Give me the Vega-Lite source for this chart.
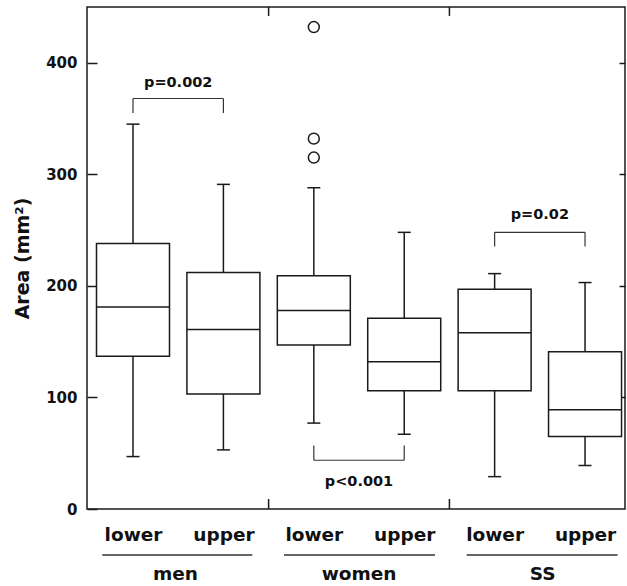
{
  "$schema": "https://vega.github.io/schema/vega-lite/v6.json",
  "width": 538,
  "height": 502,
  "autosize": "none",
  "padding": {"left": 87, "top": 7, "right": 2, "bottom": 77},
  "background": "white",
  "config": {
    "view": {"stroke": "#1a1a1a", "strokeWidth": 1.5},
    "font": "DejaVu Sans",
    "axis": {"grid": false, "domain": false}
  },
  "datasets": {
    "boxes": [
      {"sex": "men", "jaw": "lower", "pos": 0.5, "lo": 47, "q1": 137, "med": 181, "q3": 238, "hi": 345},
      {"sex": "men", "jaw": "upper", "pos": 1.5, "lo": 53, "q1": 103, "med": 161, "q3": 212, "hi": 291},
      {"sex": "women", "jaw": "lower", "pos": 2.5, "lo": 77, "q1": 147, "med": 178, "q3": 209, "hi": 288},
      {"sex": "women", "jaw": "upper", "pos": 3.5, "lo": 67, "q1": 106, "med": 132, "q3": 171, "hi": 248},
      {"sex": "SS", "jaw": "lower", "pos": 4.5, "lo": 29, "q1": 106, "med": 158, "q3": 197, "hi": 211},
      {"sex": "SS", "jaw": "upper", "pos": 5.5, "lo": 39, "q1": 65, "med": 89, "q3": 141, "hi": 203}
    ],
    "outliers": [
      {"pos": 2.5, "value": 432},
      {"pos": 2.5, "value": 332},
      {"pos": 2.5, "value": 315}
    ],
    "brackets": [
      {"x1": 0.5, "x2": 1.5, "xm": 1, "ybar": 368, "yleg": 355, "label": "p=0.002", "ly": 378},
      {"x1": 2.5, "x2": 3.5, "xm": 3, "ybar": 43.7, "yleg": 57, "label": "p<0.001", "ly": 20.6},
      {"x1": 4.5, "x2": 5.5, "xm": 5, "ybar": 248, "yleg": 235.3, "label": "p=0.02", "ly": 260}
    ],
    "groups": [
      {"group": "men", "gx": 0.97, "u1": 0.16, "u2": 1.82, "uy": -41.2, "ty": -63.6},
      {"group": "women", "gx": 3.0, "u1": 2.17, "u2": 3.84, "uy": -41.2, "ty": -63.6},
      {"group": "SS", "gx": 5.03, "u1": 4.19, "u2": 5.86, "uy": -41.2, "ty": -63.6}
    ],
    "separators": [
      {"sx": 2, "s1": 0, "s2": 9},
      {"sx": 2, "s1": 442, "s2": 450},
      {"sx": 4, "s1": 0, "s2": 9},
      {"sx": 4, "s1": 442, "s2": 450}
    ]
  },
  "resolve": {"axis": {"y": "independent", "x": "independent"}},
  "layer": [
    {
      "data": {"name": "boxes"},
      "mark": {"type": "rule", "stroke": "#1a1a1a", "strokeWidth": 1.5},
      "encoding": {
        "x": {"field": "pos", "type": "quantitative", "scale": {"domain": [-0.0088, 5.942], "nice": false, "zero": false, "padding": 0},
          "axis": {"values": [0.5, 1.5, 2.5, 3.5, 4.5, 5.5], "ticks": false, "labelExpr": "floor(datum.value) % 2 == 0 ? 'lower' : 'upper'", "labelFont": "DejaVu Sans", "labelFontWeight": "bold", "labelFontSize": 18.5, "labelColor": "#111", "labelBaseline": "alphabetic", "labelPadding": 31, "title": null, "labelFlush": false, "labelOverlap": false}},
        "y": {"field": "lo", "type": "quantitative", "scale": {"domain": [0, 450], "nice": false, "padding": 0},
          "axis": {"orient": "left", "values": [0, 100, 200, 300, 400], "tickSize": -10, "tickColor": "#1a1a1a", "tickWidth": 1.5, "labelPadding": 20, "labelFont": "DejaVu Sans", "labelFontWeight": "bold", "labelFontSize": 15, "labelColor": "#111", "title": "Area (mm²)", "titleFont": "DejaVu Sans", "titleFontWeight": "bold", "titleFontSize": 19, "titleColor": "#111", "titlePadding": 13}},
        "y2": {"field": "q1"}
      }
    },
    {
      "data": {"name": "boxes"},
      "mark": {"type": "rule", "stroke": "#1a1a1a", "strokeWidth": 1.5},
      "encoding": {
        "x": {"field": "pos", "type": "quantitative", "axis": null},
        "y": {"field": "q3", "type": "quantitative",
          "axis": {"orient": "right", "values": [100, 200, 300, 400], "tickSize": -6, "tickColor": "#1a1a1a", "tickWidth": 1.5, "labels": false, "title": null}},
        "y2": {"field": "hi"}
      }
    },
    {
      "data": {"name": "boxes"},
      "mark": {"type": "bar", "width": 73, "fill": "white", "stroke": "#1a1a1a", "strokeWidth": 1.5},
      "encoding": {
        "x": {"field": "pos", "type": "quantitative", "axis": null},
        "y": {"field": "q1", "type": "quantitative", "axis": null},
        "y2": {"field": "q3"}
      }
    },
    {
      "data": {"name": "boxes"},
      "mark": {"type": "tick", "orient": "horizontal", "size": 73, "thickness": 1.5, "color": "#1a1a1a", "opacity": 1},
      "encoding": {
        "x": {"field": "pos", "type": "quantitative", "axis": null},
        "y": {"field": "med", "type": "quantitative", "axis": null}
      }
    },
    {
      "data": {"name": "boxes"},
      "mark": {"type": "tick", "orient": "horizontal", "size": 13, "thickness": 1.5, "color": "#1a1a1a", "opacity": 1},
      "encoding": {
        "x": {"field": "pos", "type": "quantitative", "axis": null},
        "y": {"field": "lo", "type": "quantitative", "axis": null}
      }
    },
    {
      "data": {"name": "boxes"},
      "mark": {"type": "tick", "orient": "horizontal", "size": 13, "thickness": 1.5, "color": "#1a1a1a", "opacity": 1},
      "encoding": {
        "x": {"field": "pos", "type": "quantitative", "axis": null},
        "y": {"field": "hi", "type": "quantitative", "axis": null}
      }
    },
    {
      "data": {"name": "outliers"},
      "mark": {"type": "point", "shape": "circle", "filled": false, "size": 120, "stroke": "#1a1a1a", "strokeWidth": 1.5, "opacity": 1},
      "encoding": {
        "x": {"field": "pos", "type": "quantitative", "axis": null},
        "y": {"field": "value", "type": "quantitative", "axis": null}
      }
    },
    {
      "data": {"name": "separators"},
      "mark": {"type": "rule", "stroke": "#1a1a1a", "strokeWidth": 1.5},
      "encoding": {
        "x": {"field": "sx", "type": "quantitative", "axis": null},
        "y": {"field": "s1", "type": "quantitative", "axis": null},
        "y2": {"field": "s2"}
      }
    },
    {
      "data": {"name": "brackets"},
      "mark": {"type": "rule", "stroke": "#333", "strokeWidth": 1.2},
      "encoding": {
        "x": {"field": "x1", "type": "quantitative", "axis": null},
        "x2": {"field": "x2"},
        "y": {"field": "ybar", "type": "quantitative", "axis": null}
      }
    },
    {
      "data": {"name": "brackets"},
      "mark": {"type": "rule", "stroke": "#333", "strokeWidth": 1.2},
      "encoding": {
        "x": {"field": "x1", "type": "quantitative", "axis": null},
        "y": {"field": "ybar", "type": "quantitative", "axis": null},
        "y2": {"field": "yleg"}
      }
    },
    {
      "data": {"name": "brackets"},
      "mark": {"type": "rule", "stroke": "#333", "strokeWidth": 1.2},
      "encoding": {
        "x": {"field": "x2", "type": "quantitative", "axis": null},
        "y": {"field": "ybar", "type": "quantitative", "axis": null},
        "y2": {"field": "yleg"}
      }
    },
    {
      "data": {"name": "brackets"},
      "mark": {"type": "text", "font": "DejaVu Sans", "fontWeight": "bold", "fontSize": 14.5, "color": "#111", "align": "center", "baseline": "alphabetic"},
      "encoding": {
        "x": {"field": "xm", "type": "quantitative", "axis": null},
        "y": {"field": "ly", "type": "quantitative", "axis": null},
        "text": {"field": "label"}
      }
    },
    {
      "data": {"name": "groups"},
      "mark": {"type": "rule", "stroke": "#333", "strokeWidth": 1.5},
      "encoding": {
        "x": {"field": "u1", "type": "quantitative", "axis": null},
        "x2": {"field": "u2"},
        "y": {"field": "uy", "type": "quantitative", "axis": null}
      }
    },
    {
      "data": {"name": "groups"},
      "mark": {"type": "text", "font": "DejaVu Sans", "fontWeight": "bold", "fontSize": 18.5, "color": "#111", "align": "center", "baseline": "alphabetic"},
      "encoding": {
        "x": {"field": "gx", "type": "quantitative", "axis": null},
        "y": {"field": "ty", "type": "quantitative", "axis": null},
        "text": {"field": "group"}
      }
    }
  ]
}
